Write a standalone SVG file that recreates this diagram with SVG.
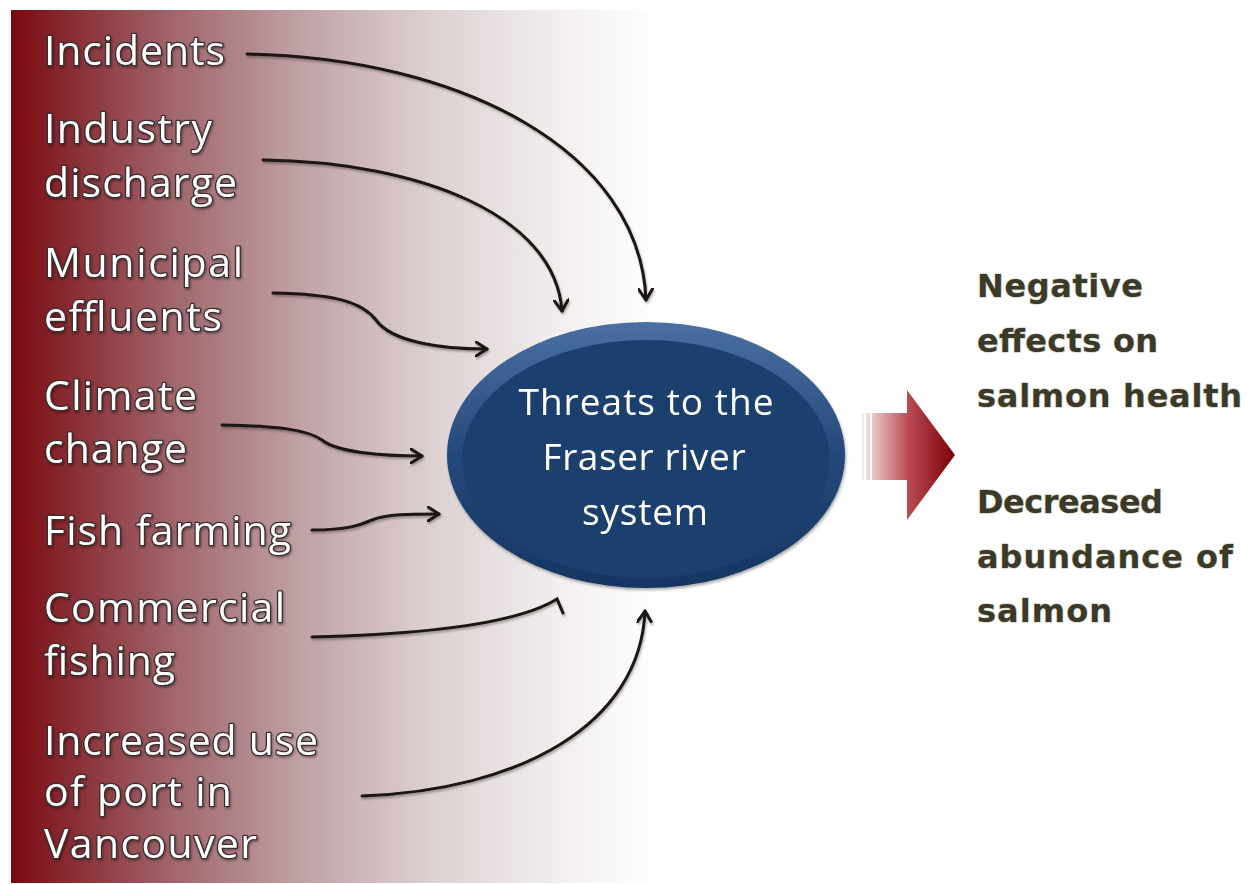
<svg xmlns="http://www.w3.org/2000/svg" width="1256" height="884" viewBox="0 0 1256 884">
  <defs>
    <linearGradient id="bg" x1="11" y1="0" x2="660" y2="0" gradientUnits="userSpaceOnUse">
      <stop offset="0" stop-color="#7a0a10"/>
      <stop offset="0.1" stop-color="#8a2f36"/>
      <stop offset="0.25" stop-color="#a0666c"/>
      <stop offset="0.45" stop-color="#c0a3a6"/>
      <stop offset="0.65" stop-color="#ddd1d2"/>
      <stop offset="0.85" stop-color="#f3efef"/>
      <stop offset="1" stop-color="#ffffff"/>
    </linearGradient>
    <linearGradient id="redArrow" x1="862" y1="0" x2="955" y2="0" gradientUnits="userSpaceOnUse">
      <stop offset="0" stop-color="#f6ecec"/>
      <stop offset="0.5" stop-color="#b84a52"/>
      <stop offset="1" stop-color="#7e0008"/>
    </linearGradient>
    <linearGradient id="rim" x1="0" y1="0" x2="0" y2="1">
      <stop offset="0" stop-color="#4a6fa0"/>
      <stop offset="0.5" stop-color="#24497a"/>
      <stop offset="1" stop-color="#163560"/>
    </linearGradient>
    <filter id="shadow" x="-10%" y="-10%" width="120%" height="130%">
      <feDropShadow dx="1" dy="2" stdDeviation="1.5" flood-color="#000" flood-opacity="0.35"/>
    </filter>
    <filter id="lineShadow" x="-5%" y="-5%" width="110%" height="115%">
      <feDropShadow dx="1" dy="2" stdDeviation="1.2" flood-color="#000" flood-opacity="0.3"/>
    </filter>
    <filter id="textShadow" x="-5%" y="-20%" width="110%" height="140%">
      <feDropShadow dx="1" dy="1.5" stdDeviation="1" flood-color="#000" flood-opacity="0.4"/>
    </filter>
    <marker id="chev" viewBox="0 0 14 16" refX="12" refY="8" markerWidth="14" markerHeight="16" markerUnits="userSpaceOnUse" orient="auto">
      <path d="M1,1 L12,8 L1,15" fill="none" stroke="#1a1512" stroke-width="3" stroke-linecap="round" stroke-linejoin="round"/>
    </marker>
    <style>
      .lbl { font-family: "Open Sans", "Liberation Sans", sans-serif; font-size: 41px; fill: #ffffff; stroke: #3a2f2f; stroke-width: 2.6px; paint-order: stroke; stroke-linejoin: round; }
      .res { font-family: "DejaVu Sans", "Liberation Sans", sans-serif; font-weight: bold; font-size: 32px; fill: #3b3a28; stroke: #d6d6c8; stroke-width: 1.4px; paint-order: stroke; stroke-linejoin: round; }
      .core { font-family: "Open Sans", "Liberation Sans", sans-serif; font-size: 37px; fill: #ffffff; text-anchor: middle; }
      .conn { fill: none; stroke: #1a1512; stroke-width: 3; stroke-linecap: round; }
    </style>
  </defs>

  <!-- backdrop panel -->
  <rect x="0" y="0" width="1256" height="884" fill="#ffffff"/>
  <rect x="11" y="10" width="1245" height="873" fill="url(#bg)"/>

  <!-- connectors -->
  <g id="connectors" filter="url(#lineShadow)">
    <path class="conn" marker-end="url(#chev)" d="M247,54 C460,58 640,150 646,300"/>
    <path class="conn" marker-end="url(#chev)" d="M263,160 C420,162 555,215 562,311"/>
    <path class="conn" marker-end="url(#chev)" d="M273,293 C335,294 362,302 376,320 C392,342 440,349 487,349"/>
    <path class="conn" marker-end="url(#chev)" d="M222,425 C280,426 308,430 322,440 C336,452 380,456 422,456"/>
    <path class="conn" marker-end="url(#chev)" d="M312,530 C348,530 360,525 372,520 C386,514 410,514 439,514"/>
    <path class="conn" d="M312,637 C440,634 520,622 557,599 L563,613"/>
    <path class="conn" marker-end="url(#chev)" d="M362,796 C520,790 640,725 645,611"/>
  </g>

  <!-- threat sources -->
  <g filter="url(#textShadow)">
    <g id="incidents"><text class="lbl" x="44" y="65" textLength="181">Incidents</text></g>
    <g id="industry"><text class="lbl" x="44" y="143" textLength="168">Industry</text><text class="lbl" x="44" y="197" textLength="193">discharge</text></g>
    <g id="municipal"><text class="lbl" x="44" y="277" textLength="199">Municipal</text><text class="lbl" x="44" y="331" textLength="178">effluents</text></g>
    <g id="climate"><text class="lbl" x="44" y="410" textLength="153">Climate</text><text class="lbl" x="44" y="463" textLength="143">change</text></g>
    <g id="fish-farming"><text class="lbl" x="44" y="545" textLength="247">Fish farming</text></g>
    <g id="commercial"><text class="lbl" x="44" y="622" textLength="241">Commercial</text><text class="lbl" x="44" y="675" textLength="131">fishing</text></g>
    <g id="port"><text class="lbl" x="44" y="755" textLength="274">Increased use</text><text class="lbl" x="44" y="806" textLength="188">of port in</text><text class="lbl" x="44" y="858" textLength="213">Vancouver</text></g>
  </g>

  <!-- central node -->
  <g id="threats" filter="url(#shadow)">
    <ellipse cx="646" cy="455" rx="199" ry="133" fill="url(#rim)"/>
    <ellipse cx="646" cy="459" rx="184" ry="119" fill="#1e3f6d"/>
    <text class="core" x="646" y="415" textLength="255">Threats to the</text>
    <text class="core" x="644" y="470" textLength="203">Fraser river</text>
    <text class="core" x="645" y="525" textLength="126">system</text>
  </g>

  <!-- outcome arrow -->
  <g id="outcome-arrow">
    <rect x="862" y="413" width="2" height="67" fill="url(#redArrow)"/>
    <rect x="866" y="413" width="4" height="67" fill="url(#redArrow)"/>
    <path d="M872,413 L907,413 L907,390 L955,455 L907,520 L907,480 L872,480 Z" fill="url(#redArrow)"/>
  </g>

  <!-- outcomes -->
  <g id="health"><text class="res" x="977" y="297" textLength="166">Negative</text><text class="res" x="977" y="352" textLength="181">effects on</text><text class="res" x="977" y="407" textLength="265">salmon health</text></g>
  <g id="abundance"><text class="res" x="977" y="513" textLength="186">Decreased</text><text class="res" x="977" y="568" textLength="256">abundance of</text><text class="res" x="977" y="622" textLength="135">salmon</text></g>
</svg>
